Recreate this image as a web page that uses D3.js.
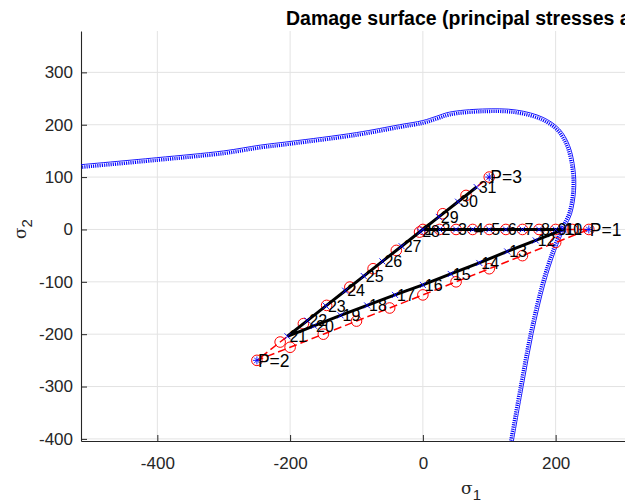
<!DOCTYPE html>
<html><head><meta charset="utf-8">
<script src="https://cdn.jsdelivr.net/npm/d3@7"></script>
<style>body{margin:0;background:#fff} svg{display:block}</style>
</head><body>
<svg id="c" width="625" height="502"></svg>
<script>
// ---------------- data ----------------
const xTicks = [-400, -200, 0, 200];
const yTicks = [-400, -300, -200, -100, 0, 100, 200, 300];

// damage surface (principal stress plane)
const surfaceS1 = [-530, -401, -300, -245, -200, -100, -35, 0, 20, 40, 90, 141, 181, 206, 221, 229, 230, 224, 213, 200, 184, 166, 151, 136, 134];
const surfaceS2 = [122, 137, 150, 161, 168, 185, 200, 208, 216, 224, 230, 228, 214, 192, 160, 115, 75, 30, 0, -40, -103, -199, -300, -406, -420];

// trial (applied) stress states, steps 1..31
const trialS1 = [0, 25, 50, 75, 100, 125, 150, 175, 200, 225, 250, 200, 150, 100, 50, 0, -50, -100, -150, -200, -250, -215, -180, -145, -110, -75, -40, -5, 30, 65, 100];
const trialS2 = [0, 0, 0, 0, 0, 0, 0, 0, 0, 0, 0, -25, -50, -75, -100, -125, -150, -175, -200, -225, -250, -215, -180, -145, -110, -75, -40, -5, 30, 65, 100];

// actual (damaged) stress states, steps 1..31
const actualS1 = [0, 25, 50, 75, 100, 125, 150, 175, 200, 210, 212, 170, 127, 85, 42, 0, -42, -84, -124, -164, -204, -174, -146, -117, -89, -61, -32, -4, 24, 53, 81];
const actualS2 = [0, 0, 0, 0, 0, 0, 0, 0, 0, 0, 0, -21, -42, -64, -85, -106, -125, -145, -164, -184, -204, -174, -146, -117, -89, -61, -32, -4, 24, 53, 81];
const stepLabels = ["1","2","3","4","5","6","7","8","9","10","11","12","13","14","15","16","17","18","19","20","21","22","23","24","25","26","27","28","29","30","31"];

// load points
const loadLabels = ["P=1", "P=2", "P=3"];
const loadS1 = [250, -250, 100];
const loadS2 = [0, -250, 100];

const titleText = "Damage surface (principal stresses axes)";

// ---------------- layout ----------------
const svg = d3.select("#c");
const L = 81, T = 31, R = 859, B = 441;
const x = d3.scaleLinear().domain([-515, 657]).range([L, R]);
const y = d3.scaleLinear().domain([-404, 379]).range([B, T]);
const axisColor = "#262626";
const font = "'Liberation Sans', Arial, Helvetica, sans-serif";

svg.append("defs").append("clipPath").attr("id", "plotclip")
  .append("rect").attr("x", L).attr("y", T).attr("width", R - L).attr("height", B - T);

// grid
const grid = svg.append("g");
grid.selectAll(".gx").data(xTicks).enter().append("line")
  .attr("x1", d => x(d)).attr("x2", d => x(d)).attr("y1", T).attr("y2", B)
  .attr("stroke", "#e3e3e3").attr("stroke-width", 1);
grid.selectAll(".gy").data(yTicks).enter().append("line")
  .attr("x1", L).attr("x2", R).attr("y1", d => y(d)).attr("y2", d => y(d))
  .attr("stroke", "#e3e3e3").attr("stroke-width", 1);

// axes
const fmt = d => String(d);
const xAxis = d3.axisBottom(x).tickValues(xTicks).tickFormat(fmt).tickSizeInner(-6).tickSizeOuter(0).tickPadding(14);
const yAxis = d3.axisLeft(y).tickValues(yTicks).tickFormat(fmt).tickSizeInner(-6).tickSizeOuter(0).tickPadding(14);
const gx = svg.append("g").attr("transform", `translate(0,${B})`).call(xAxis);
const gy = svg.append("g").attr("transform", `translate(${L},0)`).call(yAxis);
[gx, gy].forEach(g => {
  g.select(".domain").attr("stroke", axisColor).attr("stroke-width", 1.1);
  g.selectAll(".tick line").attr("stroke", axisColor).attr("stroke-width", 1);
  g.selectAll(".tick text").attr("fill", axisColor).attr("font-family", font).attr("font-size", 17);
});
gy.selectAll(".tick text").attr("x", -8);
gx.selectAll(".tick text").attr("y", 16);

const plot = svg.append("g").attr("clip-path", "url(#plotclip)");

// damage surface: solid outer line + dotted band inside
const surf = surfaceS1.map((s, i) => [x(s), y(surfaceS2[i])]);
const line = d3.line().curve(d3.curveCatmullRom.alpha(0.5));
function offsetPts(pts, off) {
  return pts.map((p, i) => {
    const a = pts[Math.max(0, i - 1)], b = pts[Math.min(pts.length - 1, i + 1)];
    let tx = b[0] - a[0], ty = b[1] - a[1];
    const n = Math.hypot(tx, ty) || 1; tx /= n; ty /= n;
    return [p[0] + (-ty) * off, p[1] + tx * off];
  });
}
plot.append("path").attr("d", line(offsetPts(surf, 2.6))).attr("fill", "none")
  .attr("stroke", "#0000ff").attr("stroke-width", 3.4).attr("stroke-dasharray", "1.1,1.1");
plot.append("path").attr("d", line(offsetPts(surf, 0))).attr("fill", "none")
  .attr("stroke", "#0000ff").attr("stroke-width", 0.9);

// trial path: red dashed with circles
const trialPts = trialS1.map((s, i) => [x(s), y(trialS2[i])]);
plot.append("path").attr("d", d3.line()(trialPts)).attr("fill", "none")
  .attr("stroke", "#ff0000").attr("stroke-width", 1.5).attr("stroke-dasharray", "8,4");
plot.selectAll(".circ").data(trialPts).enter().append("circle")
  .attr("cx", d => d[0]).attr("cy", d => d[1]).attr("r", 5.3)
  .attr("fill", "none").attr("stroke", "#ff0000").attr("stroke-width", 1);

// actual path: thick black line
const actPts = actualS1.map((s, i) => [x(s), y(actualS2[i])]);
plot.append("path").attr("d", d3.line()(actPts)).attr("fill", "none")
  .attr("stroke", "#000").attr("stroke-width", 3).attr("stroke-linejoin", "miter");

// blue x markers at actual points
const xs = 3;
plot.selectAll(".xm").data(actPts).enter().append("path")
  .attr("d", d => `M${d[0]-xs},${d[1]-xs}L${d[0]+xs},${d[1]+xs}M${d[0]-xs},${d[1]+xs}L${d[0]+xs},${d[1]-xs}`)
  .attr("stroke", "#0000ff").attr("stroke-width", 0.9);

// blue asterisks at load points
const loadPts = loadS1.map((s, i) => [x(s), y(loadS2[i])]);
const as = 4;
plot.selectAll(".ast").data(loadPts).enter().append("path")
  .attr("d", d => `M${d[0]-as},${d[1]}L${d[0]+as},${d[1]}M${d[0]},${d[1]-as}L${d[0]},${d[1]+as}` +
                  `M${d[0]-as*0.7},${d[1]-as*0.7}L${d[0]+as*0.7},${d[1]+as*0.7}M${d[0]-as*0.7},${d[1]+as*0.7}L${d[0]+as*0.7},${d[1]-as*0.7}`)
  .attr("stroke", "#0000ff").attr("stroke-width", 0.9);

// step labels
const txt = svg.append("g").attr("font-family", font).attr("fill", "#000");
txt.selectAll(".sl").data(actPts).enter().append("text")
  .attr("font-size", 16)
  .attr("x", d => d[0] + 2).attr("y", d => d[1]).attr("dy", "0.36em")
  .text((d, i) => stepLabels[i]);
txt.selectAll(".pl").data(loadPts).enter().append("text")
  .attr("font-size", 17.5)
  .attr("x", d => d[0] + 1).attr("y", d => d[1]).attr("dy", "0.36em")
  .text((d, i) => loadLabels[i]);

// title
svg.append("text").attr("x", 286).attr("y", 24.5).attr("font-family", font)
  .attr("font-weight", "bold").attr("font-size", 19.5).attr("fill", "#000").text(titleText);

// axis labels
const xl = svg.append("text").attr("x", 471).attr("y", 494).attr("text-anchor", "middle")
  .attr("font-family", "'DejaVu Serif', 'Liberation Serif', serif").attr("font-size", 17).attr("fill", axisColor);
xl.append("tspan").text("σ");
xl.append("tspan").attr("dy", 6).attr("font-size", 15).attr("font-family", font).text("1");

const yl = svg.append("text").attr("transform", "translate(26,229) rotate(-90)").attr("text-anchor", "middle")
  .attr("font-family", "'DejaVu Serif', 'Liberation Serif', serif").attr("font-size", 17).attr("fill", axisColor);
yl.append("tspan").text("σ");
yl.append("tspan").attr("dy", 6).attr("font-size", 15).attr("font-family", font).text("2");
</script>
</body></html>
